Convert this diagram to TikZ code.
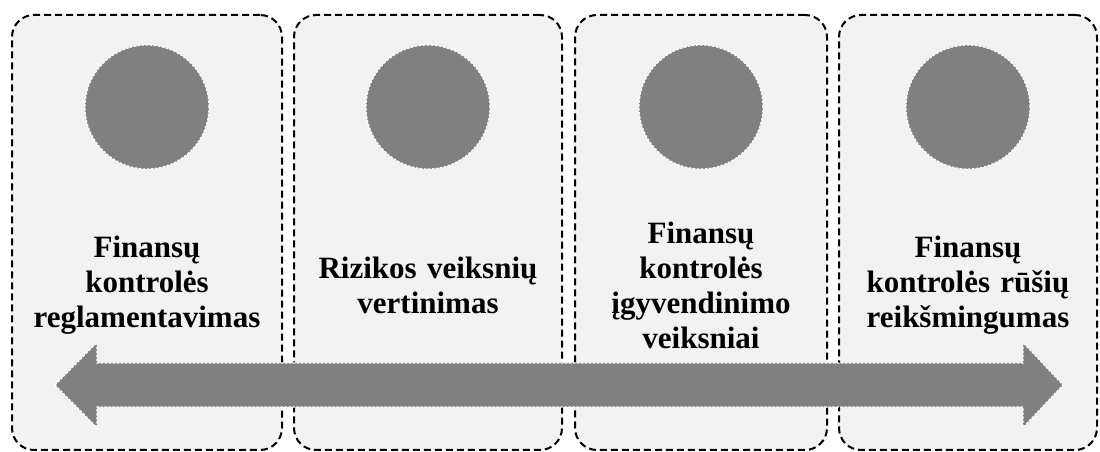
\documentclass[tikz,border=0pt]{standalone}
\usepackage{fontspec}
\setmainfont{Liberation Serif}
\begin{document}
\begin{tikzpicture}[x=1pt,y=1pt]

% Stiliai
\tikzstyle{langas}	=	[rectangle, draw=black, line width=2pt, dash pattern=on 7pt off 4pt, rounded corners=22pt, fill=black!5, minimum height=435pt]
\tikzstyle{skritulys}	=	[circle, draw=white, line width=1.2pt, dash pattern=on 2.5pt off 1.5pt, fill=black!50, minimum size=124pt, inner sep=0pt]
\tikzstyle{tekstas}	=	[text width=265pt, align=center, font=\fontsize{31}{35}\selectfont\bfseries, inner sep=0pt]
\tikzstyle{pil}	=	[draw=white, line width=1.2pt, dash pattern=on 2.5pt off 1.5pt, fill=black!50]

	\useasboundingbox (0,0) rectangle (1100,452);

	% Langai
	\node[langas, minimum width=270pt]	(langas1)	at (147,219.5)	{};
	\node[langas, minimum width=268pt]	(langas2)	[right of=langas1, node distance=281pt]	{};
	\node[langas, minimum width=252pt]	(langas3)	[right of=langas2, node distance=273pt]	{};
	\node[langas, minimum width=258pt]	(langas4)	[right of=langas3, node distance=267pt]	{};

	% Skrituliai
	\node[skritulys] (skritulys1) [above of=langas1, node distance=125.5pt] {};
	\node[skritulys] (skritulys2) [above of=langas2, node distance=125.5pt] {};
	\node[skritulys] (skritulys3) [above of=langas3, node distance=125.5pt] {};
	\node[skritulys] (skritulys4) [above of=langas4, node distance=125.5pt] {};

	% Tekstai
	\node[tekstas] (tekstas1) [below of=langas1, node distance=52.5pt] {Finansų\\kontrolės\\reglamentavimas};
	\node[tekstas] (tekstas2) [below of=langas2, node distance=52.5pt] {Rizikos veiksnių\\vertinimas};
	\node[tekstas] (tekstas3) [below of=langas3, node distance=52.5pt] {Finansų\\kontrolės\\įgyvendinimo\\veiksniai};
	\node[tekstas] (tekstas4) [below of=langas4, node distance=52.5pt] {Finansų\\kontrolės rūšių\\reikšmingumas};

	% Dviguba rodyklė
	\draw[pil] (55,67) -- (97,109.5) -- (97,89) -- (1023,89) -- (1023,109.5) -- (1063,67)
		-- (1023,24.5) -- (1023,45) -- (97,45) -- (97,24.5) -- cycle; % Pil

\end{tikzpicture}
\end{document}
